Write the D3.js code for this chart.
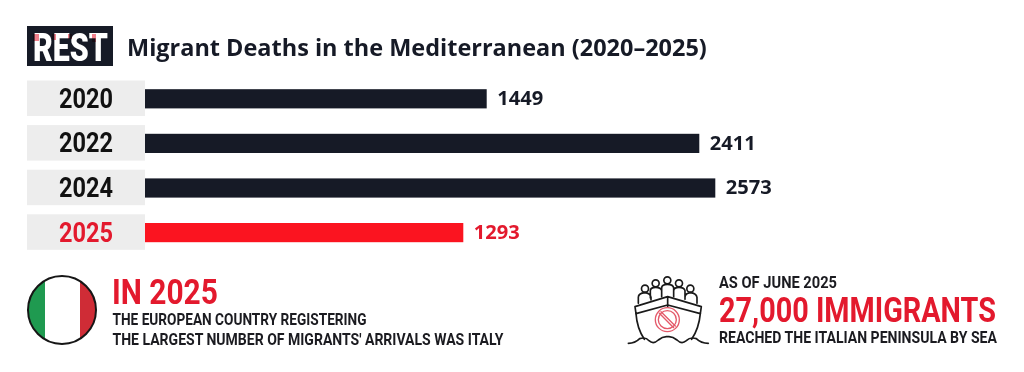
<!DOCTYPE html>
<html><head><meta charset="utf-8">
<script src="https://cdn.jsdelivr.net/npm/d3@7/dist/d3.min.js"></script>
<style>html,body{margin:0;padding:0;background:#fff}svg{display:block}</style>
</head><body><svg id="c" width="1024" height="372"></svg>
<script>
const years = ["2020","2022","2024","2025"];
const deaths = [1449,2411,2573,1293];
const highlight = ["2025"];
const titleText = "Migrant Deaths in the Mediterranean (2020–2025)";
const leftNote = ["IN 2025","THE EUROPEAN COUNTRY REGISTERING","THE LARGEST NUMBER OF MIGRANTS' ARRIVALS WAS ITALY"];
const rightNote = ["AS OF JUNE 2025","27,000 IMMIGRANTS","REACHED THE ITALIAN PENINSULA BY SEA"];

const INK="#161a26", RED="#fb1420", TXTRED="#e3192d", GREY="#ededed";
const CONDENSED="Roboto,sans-serif";
const HUMAN="'Open Sans','Noto Sans',sans-serif";
const svg=d3.select("#c");
const defs=svg.append("defs");

// The reference's bars are not drawn to one linear scale, so the x scale is
// piecewise, with breakpoints for each value.
const sortedDeaths=[...deaths].sort(d3.ascending);
const x=d3.scaleLinear().domain([0,...sortedDeaths]).range([145,463.3,486.7,699.3,715.3]);
const y=d3.scaleBand().domain(years).range([80.5,258.9]);

// Draws text and squeezes it horizontally to the measured width of the reference.
function txt(parent,s,px,py,size,len,fill,weight,family,anchor){
  const t=parent.append("text").text(s).attr("font-size",size)
    .attr("font-family",family||CONDENSED).attr("font-weight",weight||700).attr("fill",fill);
  const w=t.node().getComputedTextLength();
  const sx=len/w;
  const left=anchor==="middle"?px-len/2:px;
  t.attr("transform",`translate(${left},${py}) scale(${sx},1)`);
  return t;
}

// logo
svg.append("rect").attr("x",27).attr("y",26).attr("width",86).attr("height",40).attr("fill",INK);
txt(svg,"REST",33,61,38,75,"#fff",900);
[[33,34,6,7],[52,34,4,6],[68,34,4,5],[92,34,4,8]].forEach(([a,b,w,h])=>{
  svg.append("rect").attr("x",a).attr("y",b).attr("width",w).attr("height",h)
    .attr("fill","#f0808c").style("mix-blend-mode","multiply");
});

// title
txt(svg,titleText,127,55.5,24,580,INK,700,HUMAN);

// rows
const rows=years.map((yr,i)=>({yr,v:deaths[i]}));
svg.selectAll("rect.band").data(years).join("rect").attr("class","band")
  .attr("x",27).attr("width",118).attr("y",d=>y(d)).attr("height",35.5).attr("fill",GREY);
rows.forEach(d=>{
  txt(svg,d.yr,86,y(d.yr)+27.3,28,54,highlight.includes(d.yr)?TXTRED:"#111",700,CONDENSED,"middle");
  txt(svg,String(d.v),x(d.v)+10.5,y(d.yr)+24.7,19,46,highlight.includes(d.yr)?TXTRED:INK,700,HUMAN);
});
svg.selectAll("rect.bar").data(rows).join("rect").attr("class","bar")
  .attr("x",x(0)).attr("width",d=>x(d.v)-x(0)).attr("y",d=>y(d.yr)+8.7).attr("height",19.2)
  .attr("fill",d=>highlight.includes(d.yr)?RED:INK);

// flag
const flag=svg.append("g");
defs.append("clipPath").attr("id","fc").append("circle").attr("cx",62).attr("cy",310).attr("r",34);
const fg=flag.append("g").attr("clip-path","url(#fc)");
fg.append("rect").attr("x",27).attr("y",275).attr("width",18).attr("height",70).attr("fill","#1f9a50");
fg.append("rect").attr("x",45).attr("y",275).attr("width",35).attr("height",70).attr("fill","#ffffff");
fg.append("rect").attr("x",80).attr("y",275).attr("width",18).attr("height",70).attr("fill","#cf2c36");
flag.append("circle").attr("cx",62).attr("cy",310).attr("r",34).attr("fill","none").attr("stroke","#161616").attr("stroke-width",2);

// notes
txt(svg,leftNote[0],112,303.5,35,106,TXTRED);
txt(svg,leftNote[1],112.5,325,16.4,254,"#1b1b20",700);
txt(svg,leftNote[2],112.5,344.5,16.4,391,"#1b1b20",700);
txt(svg,rightNote[0],719,287.5,16.4,118,"#1b1b20",700);
txt(svg,rightNote[1],719,321.5,35,277,TXTRED);
txt(svg,rightNote[2],719,343,16.4,278,"#1b1b20",700);

// ship icon (decorative)
const ship=svg.append("g").attr("transform","translate(625,270) scale(0.3333)")
  .attr("fill","none").attr("stroke","#1a1a1a").attr("stroke-width",5).attr("stroke-linejoin","round").attr("stroke-linecap","round");
[[127,31],[92,40],[162,40],[60,56],[196,56]].forEach(([cx,cy])=>{
  ship.append("circle").attr("cx",cx).attr("cy",cy).attr("r",10.5).attr("fill","#fff");
});
ship.append("path").attr("d","M40,100 V82 Q40,70 60,68 Q76,70 78,82 V90 M76,84 V62 Q76,52 92,52 Q108,52 110,62 V80 M110,76 V54 Q110,43 127,43 Q145,43 146,54 V80 M146,62 Q146,52 162,52 Q178,52 180,62 V88 M180,82 Q180,70 196,68 Q214,70 216,82 V100");
ship.append("path").attr("d","M128,80 L30,110 L33,131 L128,105 L226,131 L229,110 Z M128,80 V105");
ship.append("path").attr("d","M33,131 Q36,175 58,208 M226,131 Q222,175 200,208 M128,105 V120");
ship.append("path").attr("d","M10,220 Q30,220 44,206 Q62,200 72,212 Q85,224 100,210 Q114,198 128,200 Q142,198 156,210 Q170,224 184,212 Q196,200 214,206 Q228,220 250,220");
const no=ship.append("g").attr("stroke","#e4596a").attr("stroke-width",4);
no.append("circle").attr("cx",127).attr("cy",149).attr("r",36).attr("fill","#fff");
no.append("circle").attr("cx",127).attr("cy",149).attr("r",27);
no.append("path").attr("d","M103,130 L146,173 M108,125 L151,168");
</script></body></html>
